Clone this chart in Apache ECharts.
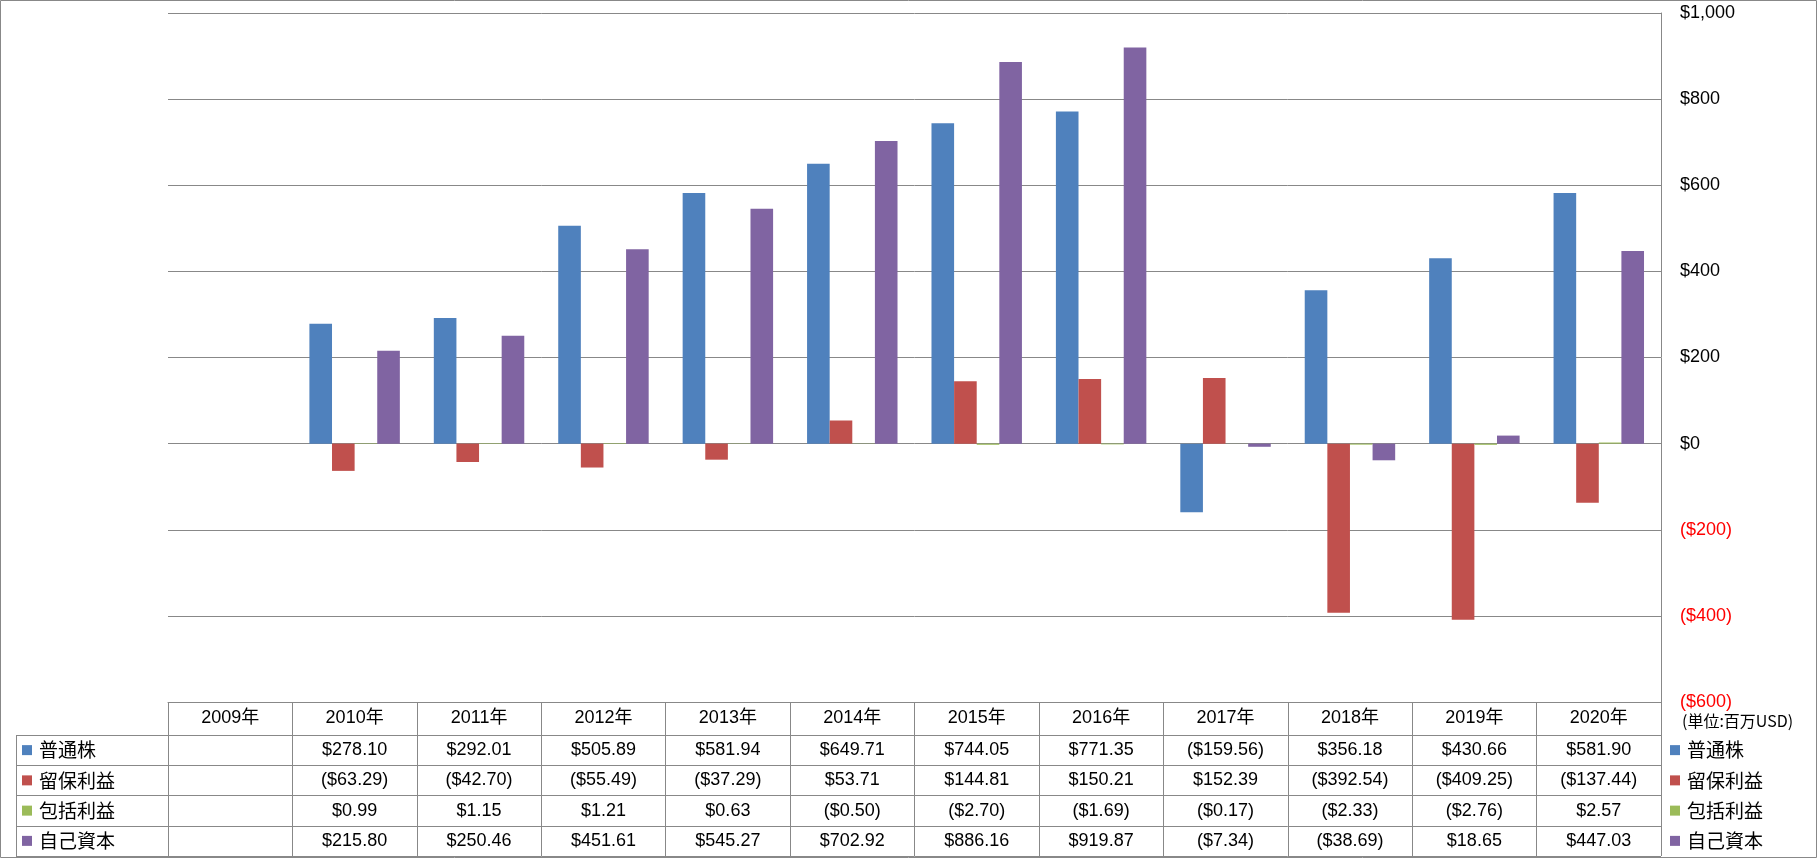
<!DOCTYPE html>
<html>
<head>
<meta charset="utf-8">
<script src="https://cdn.jsdelivr.net/npm/echarts@6/dist/echarts.min.js"></script>
<style>
html,body{margin:0;padding:0;background:#fff;}
#c{width:1817px;height:858px;}
</style>
</head>
<body>
<div id="c"></div>
<script>
const years = ['2009年','2010年','2011年','2012年','2013年','2014年','2015年','2016年','2017年','2018年','2019年','2020年'];
const seriesNames = ['普通株','留保利益','包括利益','自己資本'];
const commonStock = [null, 278.10, 292.01, 505.89, 581.94, 649.71, 744.05, 771.35, -159.56, 356.18, 430.66, 581.90];
const retainedEarnings = [null, -63.29, -42.70, -55.49, -37.29, 53.71, 144.81, 150.21, 152.39, -392.54, -409.25, -137.44];
const comprehensiveIncome = [null, 0.99, 1.15, 1.21, 0.63, -0.50, -2.70, -1.69, -0.17, -2.33, -2.76, 2.57];
const equity = [null, 215.80, 250.46, 451.61, 545.27, 702.92, 886.16, 919.87, -7.34, -38.69, 18.65, 447.03];
const unitLabel = '(単位:百万USD)';
const yMin = -600, yMax = 1000, yInterval = 200;

const colors = ['#4F81BD','#C0504D','#9BBB59','#8064A2'];
const allValues = [commonStock, retainedEarnings, comprehensiveIncome, equity];
const gridColor = '#888888';
const numFont = 'Liberation Sans';
const cjkFont = 'Noto Sans CJK JP';

function money(v, dec){
  const s = Math.abs(v).toLocaleString('en-US', {minimumFractionDigits:dec, maximumFractionDigits:dec});
  return v < 0 ? '($' + s + ')' : '$' + s;
}

const cellData = [];
allValues.forEach((arr, r) => arr.forEach((v, c) => { if (v !== null) cellData.push([c, r, v]); }));

const legendRich = { t: { fontSize: 19, fontFamily: cjkFont, color: '#000', padding: [0,0,0,7] } };
colors.forEach((col, i) => { legendRich['m' + i] = { width: 10, height: 10, backgroundColor: col }; });
function legendFmt(val, idx){ return '{m' + idx + '|}{t|' + val + '}'; }

const chart = echarts.init(document.getElementById('c'), null, {renderer:'canvas'});
const option = {
  animation: false,
  backgroundColor: '#fff',
  title: {
    text: unitLabel, left: 1677, top: 708,
    textStyle: { fontSize: 16, fontWeight: 'normal', fontFamily: cjkFont, color: '#000' }
  },
  graphic: [{
    type: 'rect', silent: true, z: -1,
    shape: { x: 0.5, y: 0.5, width: 1816, height: 857 },
    style: { fill: 'none', stroke: gridColor, lineWidth: 1 }
  }],
  grid: [
    { left: 168, right: 156, top: 13, height: 689, outerBoundsMode: 'none' },
    { left: 168, right: 156, top: 735, bottom: 2, outerBoundsMode: 'none' },
    { left: 16, right: 1649, top: 735, bottom: 2, outerBoundsMode: 'none' }
  ],
  xAxis: [
    {
      gridIndex: 0, type: 'category', data: years, position: 'bottom',
      axisLine: { show: true, onZero: false, lineStyle: { color: gridColor } },
      axisTick: { show: true, length: 33, interval: 0, lineStyle: { color: gridColor } },
      axisLabel: { show: true, interval: 0, margin: 16, verticalAlign: 'middle', fontSize: 18, fontFamily: numFont + ',' + cjkFont, color: '#000' },
      splitLine: { show: false }
    },
    {
      gridIndex: 1, type: 'category', data: years,
      axisLine: { show: false }, axisTick: { show: false }, axisLabel: { show: false },
      splitLine: { show: true, interval: 0, lineStyle: { color: gridColor } }
    },
    {
      gridIndex: 2, type: 'category', data: [''],
      axisLine: { show: false }, axisTick: { show: false }, axisLabel: { show: false },
      splitLine: { show: true, interval: 0, lineStyle: { color: gridColor } }
    }
  ],
  yAxis: [
    {
      gridIndex: 0, type: 'value', position: 'right', min: yMin, max: yMax, interval: yInterval,
      axisLine: { show: true, lineStyle: { color: gridColor } },
      axisTick: { show: false },
      splitLine: { show: true, lineStyle: { color: gridColor } },
      axisLabel: {
        margin: 19,
        formatter: v => v < 0 ? '{n|' + money(v, 0) + '}' : '{p|' + money(v, 0) + '}',
        rich: {
          p: { fontSize: 18, fontFamily: numFont, color: '#000' },
          n: { fontSize: 18, fontFamily: numFont, color: '#FF0000' }
        }
      }
    },
    {
      gridIndex: 1, type: 'category', data: seriesNames, inverse: true, position: 'right',
      axisLine: { show: false }, axisTick: { show: false },
      splitLine: { show: true, interval: 0, lineStyle: { color: gridColor } },
      axisLabel: { margin: 9, interval: 0, formatter: legendFmt, rich: legendRich }
    },
    {
      gridIndex: 2, type: 'category', data: seriesNames, inverse: true, position: 'left',
      axisLine: { show: false }, axisTick: { show: false },
      splitLine: { show: true, interval: 0, lineStyle: { color: gridColor } },
      axisLabel: { inside: true, margin: 6, interval: 0, align: 'left', formatter: legendFmt, rich: legendRich }
    }
  ],
  series: [
    ...allValues.map((arr, i) => ({
      name: seriesNames[i], type: 'bar', xAxisIndex: 0, yAxisIndex: 0,
      data: arr, barGap: '0%', barCategoryGap: '27.3%',
      itemStyle: { color: colors[i] }
    })),
    {
      type: 'custom', xAxisIndex: 1, yAxisIndex: 1, data: cellData,
      encode: { x: 0, y: 1 },
      renderItem: (params, api) => {
        const p = api.coord([api.value(0), api.value(1)]);
        return {
          type: 'text', x: p[0], y: p[1],
          style: { text: money(api.value(2), 2), align: 'center', verticalAlign: 'middle', fontSize: 18, fontFamily: numFont, fill: '#000' }
        };
      }
    }
  ]
};
chart.setOption(option);
</script>
</body>
</html>
